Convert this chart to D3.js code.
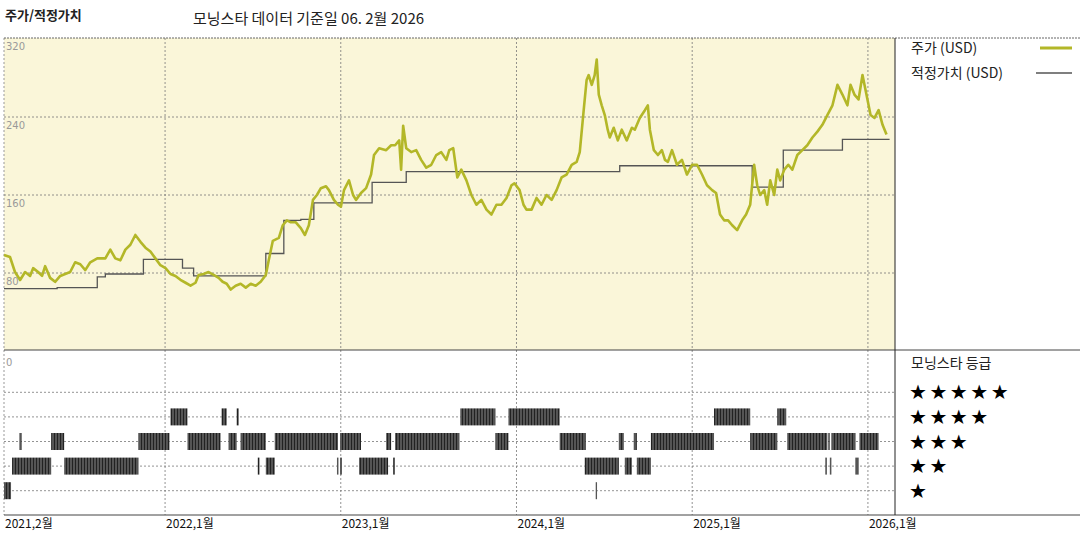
<!DOCTYPE html>
<html><head><meta charset="utf-8">
<script src="https://cdn.jsdelivr.net/npm/d3@7"></script>
<style>body{margin:0;background:#fff;font-family:"Noto Sans CJK KR","DejaVu Sans",sans-serif}</style>
</head><body><svg id="c" width="1080" height="540"></svg>
<script>
// months since 2021-02-01
const priceMonths=[0,0.41,0.75,1.1,1.44,1.78,1.99,2.33,2.6,2.81,3.15,3.49,3.84,4.18,4.52,4.86,5.21,5.55,5.89,6.37,6.92,7.26,7.6,7.95,8.29,8.63,8.97,9.32,9.66,10,10.34,10.68,11.03,11.37,11.71,12.05,12.4,12.74,13.08,13.29,13.63,13.97,14.32,14.66,14.93,15.21,15.48,15.82,16.16,16.51,16.85,17.19,17.53,17.88,18.08,18.36,18.77,19.04,19.32,19.59,19.93,20.27,20.55,20.82,21.1,21.37,21.64,21.99,22.19,22.53,22.81,23.01,23.22,23.56,23.84,24.04,24.38,24.73,25.07,25.27,25.62,26.1,26.44,26.71,26.99,27.12,27.26,27.47,27.81,28.15,28.49,28.84,29.18,29.52,29.86,30.21,30.41,30.68,30.96,31.23,31.58,31.92,32.26,32.6,32.95,33.29,33.63,33.97,34.32,34.66,34.86,35.21,35.48,35.68,36.03,36.37,36.71,37.05,37.4,37.74,38.08,38.42,38.77,39.11,39.32,39.59,39.79,39.93,40.14,40.34,40.48,40.62,40.82,41.03,41.23,41.37,41.64,41.92,42.19,42.53,42.88,43.08,43.42,43.77,43.97,44.11,44.38,44.66,44.93,45.14,45.34,45.62,45.96,46.3,46.64,46.99,47.33,47.67,48.01,48.36,48.63,48.9,49.18,49.45,49.73,50.07,50.41,50.68,50.96,51.23,51.44,51.64,51.92,52.12,52.33,52.6,52.81,53.01,53.29,53.56,53.84,54.18,54.52,54.86,55.21,55.55,55.89,56.23,56.58,56.92,57.26,57.6,57.81,58.08,58.36,58.63,58.9,59.18,59.45,59.73,60,60.27,60.48];
const priceValues=[98.5,96.4,81,72.8,81,77,85,81,77,87,75,71,77,79,81,91,89,83,91,95,95,104,95,93,104,109,119,112,106,102,95,88,85,79,77,73,70,67,70,78,79,81,78,75,71,69,63,67,69,65,69,67,71,78,93,113,116,129,134,132,132,126,119,129,155,160,167,169,165,155,150,148,165,175,160,155,162,167,181,201,208,206,211,211,216,186,231,208,204,206,196,188,191,201,204,196,206,208,178,186,175,160,150,155,145,140,150,150,157,170,172,165,150,145,145,157,150,160,155,165,178,181,191,194,204,247,278,283,273,283,299,263,252,242,227,219,229,216,227,216,229,227,239,247,252,227,206,201,206,196,194,206,191,196,181,191,191,181,170,165,162,140,134,134,129,124,134,140,150,191,170,160,165,150,175,160,186,175,186,191,186,201,206,211,219,225,232,242,252,273,263,252,273,263,258,283,263,242,239,247,232,222];
const fairMonths=[0,3.63,6.37,6.92,9.52,12.19,12.95,17.88,19.11,20.27,21.16,25.14,27.47,42.05,51.1,53.22,57.26,60.48];
const fairValues=[64,65,76,79,94,85,77,100,134,135,152,173,184,190,168,206,217,217];
const rating4=[[11.37,12.53],[14.86,15.21],[15.89,16.03],[31.16,33.56],[34.45,37.95],[48.49,50.96],[52.81,53.42]];
const rating3=[[1.05,1.2],[3.22,4.11],[9.18,11.3],[12.53,14.79],[15.34,15.89],[16.16,17.88],[18.49,22.81],[22.95,24.38],[26.1,26.44],[26.71,31.1],[33.56,34.45],[37.95,39.73],[41.99,42.33],[43.01,43.22],[44.18,48.49],[50.96,52.81],[53.49,56.23],[56.3,56.4],[56.51,58.15],[58.42,59.73]];
const rating2=[[0.55,3.22],[4.11,9.18],[17.33,17.45],[17.88,18.49],[22.74,22.84],[22.95,23.08],[24.25,26.23],[26.58,26.7],[39.66,41.99],[42.4,42.88],[43.22,44.18],[56.1,56.2],[56.4,56.5],[58.15,58.36]];
const rating1=[[0,0.48],[40.41,40.5]];
const ratingRows=[{stars:5,segs:[]},{stars:4,segs:rating4},{stars:3,segs:rating3},{stars:2,segs:rating2},{stars:1,segs:rating1}];
const yTicks=[80,160,240,320];
const xTickMonths=[0,11,23,35,47,59];
const xTickLabels=["2021,2월","2022,1월","2023,1월","2024,1월","2025,1월","2026,1월"];

const svg=d3.select("#c");
const L=4,R=895,T=38,MID=350,B=515;
const x=d3.scaleLinear().domain([0,60.85]).range([L,R]);
const y=d3.scaleLinear().domain([0,320]).range([351,39]);
const yr=d3.scaleBand().domain([5,4,3,2,1]).range([380,503]).padding(0);

const defs=svg.append("defs");
const pat=defs.append("pattern").attr("id","stripe").attr("patternUnits","userSpaceOnUse").attr("width",3).attr("height",20);
pat.append("rect").attr("width",3).attr("height",20).attr("fill","#555");
pat.append("rect").attr("width",1).attr("height",20).attr("fill","#222");

svg.append("rect").attr("x",L).attr("y",T).attr("width",R-L).attr("height",MID-T).attr("fill","#faf6d9");
const grid="#777";
svg.selectAll(".vg").data(xTickMonths.slice(1)).join("line").attr("x1",d=>x(d)).attr("x2",d=>x(d)).attr("y1",T).attr("y2",B)
 .attr("stroke",grid).attr("stroke-dasharray","2,2").attr("stroke-width",0.8);
svg.append("line").attr("x1",L).attr("x2",L).attr("y1",T).attr("y2",B).attr("stroke","#999").attr("stroke-dasharray","2,2");
svg.selectAll(".hg").data(yTicks.slice(0,3)).join("line").attr("x1",L).attr("x2",R).attr("y1",d=>y(d)).attr("y2",d=>y(d))
 .attr("stroke",grid).attr("stroke-dasharray","2,2").attr("stroke-width",0.8);
svg.selectAll(".rg").data([5,4,3,2,1]).join("line").attr("x1",L).attr("x2",R).attr("y1",d=>yr(d)+yr.bandwidth()/2).attr("y2",d=>yr(d)+yr.bandwidth()/2)
 .attr("stroke",grid).attr("stroke-dasharray","2,2").attr("stroke-width",0.8);
svg.append("line").attr("x1",L).attr("x2",1080).attr("y1",T).attr("y2",T).attr("stroke","#666").attr("stroke-dasharray","2,1");
svg.append("line").attr("x1",L).attr("x2",1080).attr("y1",MID).attr("y2",MID).attr("stroke","#444");
svg.append("line").attr("x1",L).attr("x2",1080).attr("y1",B).attr("y2",B).attr("stroke","#444");
svg.append("line").attr("x1",R).attr("x2",R).attr("y1",T).attr("y2",B).attr("stroke","#222");

svg.selectAll(".yl").data(yTicks).join("text").attr("x",6).attr("y",d=>y(d)+(d===320?11:12)).text(d=>d)
 .attr("font-size",10).attr("fill","#999").attr("font-family","DejaVu Sans");
svg.append("text").attr("x",6).attr("y",366).text("0").attr("font-size",10).attr("fill","#999").attr("font-family","DejaVu Sans");

const fv=fairMonths.map((m,i)=>[m,fairValues[i]]);
svg.append("path").attr("d",d3.line().x(d=>x(d[0])).y(d=>y(d[1])).curve(d3.curveStepAfter)(fv)).attr("fill","none").attr("stroke","#555").attr("stroke-width",1.3);
const pv=priceMonths.map((m,i)=>[m,priceValues[i]]);
svg.append("path").attr("d",d3.line().x(d=>x(d[0])).y(d=>y(d[1]))(pv)).attr("fill","none").attr("stroke","#b3b728").attr("stroke-width",2.6).attr("stroke-linejoin","round");

ratingRows.forEach(r=>{
  svg.selectAll(null).data(r.segs).join("rect").attr("x",d=>x(d[0])).attr("width",d=>Math.max(1.2,x(d[1])-x(d[0])))
   .attr("y",yr(r.stars)+yr.bandwidth()/2-8.5).attr("height",17).attr("fill","url(#stripe)");
});

svg.selectAll(".xl").data(xTickMonths).join("text").attr("x",d=>x(d)+1).attr("y",528).text((d,i)=>xTickLabels[i])
 .attr("font-size",12).attr("fill","#111");

svg.append("text").attr("x",5).attr("y",20).text("주가/적정가치").attr("font-size",13).attr("font-weight","bold").attr("fill","#222");
svg.append("text").attr("x",193).attr("y",24).text("모닝스타 데이터 기준일 06. 2월 2026").attr("font-size",15).attr("fill","#222");

svg.append("text").attr("x",911).attr("y",53).text("주가 (USD)").attr("font-size",14).attr("fill","#222");
svg.append("line").attr("x1",1040).attr("x2",1072).attr("y1",48).attr("y2",48).attr("stroke","#b3b728").attr("stroke-width",3);
svg.append("text").attr("x",911).attr("y",78).text("적정가치 (USD)").attr("font-size",14).attr("fill","#222");
svg.append("line").attr("x1",1036).attr("x2",1072).attr("y1",73).attr("y2",73).attr("stroke","#555").attr("stroke-width",1.3);
svg.append("text").attr("x",911).attr("y",368).text("모닝스타 등급").attr("font-size",14).attr("fill","#222");
svg.selectAll(".st").data([5,4,3,2,1]).join("text").attr("x",909).attr("y",d=>yr(d)+yr.bandwidth()/2+7).text(d=>"★".repeat(d))
 .attr("font-size",20).attr("letter-spacing",2.5).attr("fill","#000").attr("font-family","DejaVu Sans");
</script></body></html>
